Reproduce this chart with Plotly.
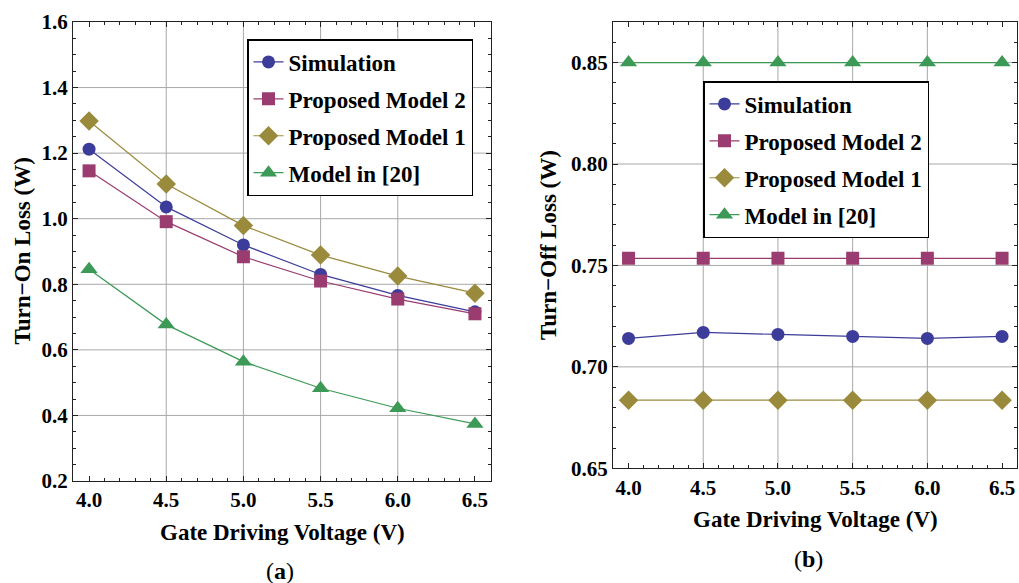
import plotly.graph_objects as go

# ---------------- data ----------------
voltage = [4.0, 4.5, 5.0, 5.5, 6.0, 6.5]
series_names = ["Simulation", "Proposed Model 2", "Proposed Model 1", "Model in [20]"]

on_sim = [1.212, 1.036, 0.920, 0.830, 0.766, 0.716]
on_pm2 = [1.146, 0.991, 0.884, 0.810, 0.755, 0.710]
on_pm1 = [1.298, 1.106, 0.979, 0.889, 0.825, 0.773]
on_m20 = [0.846, 0.677, 0.564, 0.483, 0.422, 0.374]

off_sim = [0.714, 0.717, 0.716, 0.715, 0.714, 0.715]
off_pm2 = [0.7535, 0.7535, 0.7535, 0.7535, 0.7535, 0.7535]
off_pm1 = [0.6836, 0.6836, 0.6836, 0.6836, 0.6836, 0.6836]
off_m20 = [0.850, 0.850, 0.850, 0.850, 0.850, 0.850]

x_ticks = [4.0, 4.5, 5.0, 5.5, 6.0, 6.5]
x_grid = [4.5, 5.0, 5.5, 6.0]
on_yticks = [0.2, 0.4, 0.6, 0.8, 1.0, 1.2, 1.4, 1.6]
on_ygrid = [0.4, 0.6, 0.8, 1.0, 1.2, 1.4]
off_yticks = [0.65, 0.70, 0.75, 0.80, 0.85]
off_ygrid = [0.70, 0.75, 0.80, 0.85]

# ---------------- style ----------------
W, H = 1019, 583
colors = ["#3c3c9a", "#9a3c70", "#9a8a3c", "#3c9a56"]
symbols = ["circle", "square", "diamond", "triangle-up"]
msizes = [13, 13, 15, 15]
FONT = "Liberation Serif"
TICK_FS = 21
TITLE_FS = 23
LEG_FS = 23


def px(v):
    return v / W


def py(v):
    return 1 - v / H


fig = go.Figure()

on_series = [on_sim, on_pm2, on_pm1, on_m20]
off_series = [off_sim, off_pm2, off_pm1, off_m20]

for i, (name, ys) in enumerate(zip(series_names, on_series)):
    fig.add_trace(go.Scatter(
        x=voltage, y=ys, name=name, mode="lines+markers",
        line=dict(color=colors[i], width=1.2),
        marker=dict(symbol=symbols[i], size=msizes[i], color=colors[i]),
        xaxis="x", yaxis="y", legend="legend", legendgroup="a%d" % i))

for i, (name, ys) in enumerate(zip(series_names, off_series)):
    fig.add_trace(go.Scatter(
        x=voltage, y=ys, name=name, mode="lines+markers",
        line=dict(color=colors[i], width=1.2),
        marker=dict(symbol=symbols[i], size=msizes[i], color=colors[i]),
        xaxis="x2", yaxis="y2", legend="legend2", legendgroup="b%d" % i))

tickfont = dict(family=FONT, size=TICK_FS, color="black", weight="bold")
frame = dict(showline=True, linecolor="#222222", linewidth=1.2, mirror="ticks",
             ticks="inside", ticklen=5, tickwidth=1, tickcolor="#222222",
             showgrid=False, zeroline=False, tickfont=tickfont, automargin=False)

xdom1 = [px(73), px(491)]
ydom1 = [py(481), py(22)]
xdom2 = [px(613), px(1017)]
ydom2 = [py(468.3), py(22)]

legfont = dict(family=FONT, size=LEG_FS, color="black", weight="bold")
fig.update_layout(
    template="none",
    width=W, height=H,
    margin=dict(l=0, r=0, t=0, b=0, pad=0, autoexpand=False),
    paper_bgcolor="white", plot_bgcolor="white",
    showlegend=True,
    xaxis=dict(domain=xdom1, range=[3.896, 6.604], tickvals=x_ticks,
               tickformat=".1f", anchor="y",
               minor=dict(ticks="inside", dtick=0.1, ticklen=3, tickcolor="#222222", showgrid=False),
               **frame),
    yaxis=dict(domain=ydom1, range=[0.2, 1.6], tickvals=on_yticks,
               tickformat=".1f", anchor="x",
               minor=dict(ticks="inside", dtick=0.05, ticklen=3, tickcolor="#222222", showgrid=False),
               **frame),
    xaxis2=dict(domain=xdom2, range=[3.896, 6.6], tickvals=x_ticks,
                tickformat=".1f", anchor="y2",
                minor=dict(ticks="inside", dtick=0.1, ticklen=3, tickcolor="#222222", showgrid=False),
                **frame),
    yaxis2=dict(domain=ydom2, range=[0.65, 0.87], tickvals=off_yticks,
                tickformat=".2f", anchor="x2",
                minor=dict(ticks="inside", dtick=0.01, ticklen=3, tickcolor="#222222", showgrid=False),
                **frame),
    legend=dict(x=px(247), y=py(39), xanchor="left", yanchor="top",
                bgcolor="white", bordercolor="black", borderwidth=1.5,
                font=legfont, traceorder="grouped", tracegroupgap=4, itemwidth=30),
    legend2=dict(x=px(703), y=py(81), xanchor="left", yanchor="top",
                 bgcolor="white", bordercolor="black", borderwidth=1.5,
                 font=legfont, traceorder="grouped", tracegroupgap=4, itemwidth=30),
)

# grid lines
gridline = dict(color="#a8a8a8", width=1)
shapes = []
for xv in x_grid:
    shapes.append(dict(type="line", xref="x", yref="y domain", x0=xv, x1=xv, y0=0, y1=1,
                       line=gridline, layer="below"))
    shapes.append(dict(type="line", xref="x2", yref="y2 domain", x0=xv, x1=xv, y0=0, y1=1,
                       line=gridline, layer="below"))
for yv in on_ygrid:
    shapes.append(dict(type="line", xref="x domain", yref="y", x0=0, x1=1, y0=yv, y1=yv,
                       line=gridline, layer="below"))
for yv in off_ygrid:
    shapes.append(dict(type="line", xref="x2 domain", yref="y2", x0=0, x1=1, y0=yv, y1=yv,
                       line=gridline, layer="below"))
fig.update_layout(shapes=shapes)

tf = dict(family=FONT, size=TITLE_FS, color="black", weight="bold")
ann = [
    dict(text="Turn−On Loss (W)", x=px(22), y=py(251.5), textangle=-90),
    dict(text="Turn−Off Loss (W)", x=px(548), y=py(245), textangle=-90),
    dict(text="Gate Driving Voltage (V)", x=px(282), y=py(532)),
    dict(text="Gate Driving Voltage (V)", x=px(815.5), y=py(519)),
]
for a in ann:
    fig.add_annotation(xref="paper", yref="paper", xanchor="center", yanchor="middle",
                       showarrow=False, font=tf, **a)
capfont = dict(family=FONT, size=24, color="black")
fig.add_annotation(text="(<b>a</b>)", x=px(280), y=py(571), xref="paper", yref="paper",
                   showarrow=False, font=capfont, xanchor="center", yanchor="middle")
fig.add_annotation(text="(<b>b</b>)", x=px(808), y=py(559), xref="paper", yref="paper",
                   showarrow=False, font=capfont, xanchor="center", yanchor="middle")

fig.write_html("out.html",
               config={"displayModeBar": False},
               post_script="document.body.style.margin='0';document.body.style.overflow='hidden';")
